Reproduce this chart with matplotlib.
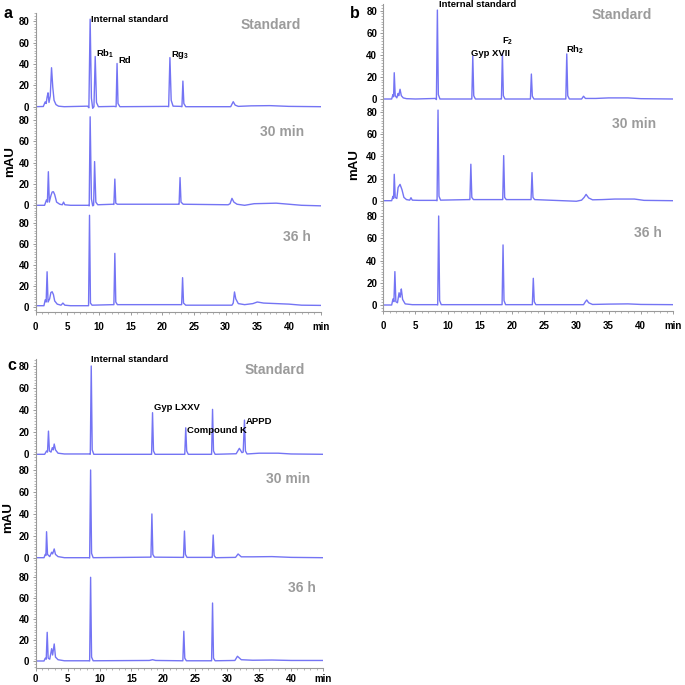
import numpy as np
import matplotlib.pyplot as plt
from matplotlib.ticker import MultipleLocator

plt.rcParams.update({
    "font.family": ["Liberation Sans", "DejaVu Sans"],
    "mathtext.default": "regular",
    "font.weight": "bold",
})

W = H = 685
LINE = "#7474f4"
AXC = "#9a9a9a"

# ---- data (time in min, signal in mAU) ----
a_std_t = [0.0, 1.2, 1.5, 1.65, 1.8, 1.95, 2.1, 2.3, 2.5, 2.7, 2.9, 3.2, 3.6, 4.5, 8.2, 8.4, 8.6, 8.8, 9.0,
           9.2, 9.4, 9.6, 9.9, 12.4, 12.7, 12.85, 13.0, 13.3, 20.8, 21.0, 21.2, 21.4, 21.7, 22.9, 23.1, 23.25,
           23.4, 23.7, 30.8, 31.2, 31.5, 32.0, 34.0, 37.0, 40.0, 45.0]
a_std_y = [0.0, 0.2, 4.5, 3.0, 9.0, 13.0, 4.0, 10.0, 36.5, 18.0, 6.0, 2.0, 0.5, 0.0, 0.5, -1.0, 82.0, 8.0, -1.5,
           0.0, 47.0, 4.0, 0.0, 0.3, 0.0, 40.5, 3.0, 0.0, 0.3, 0.0, 46.0, 6.0, 0.5, 0.3, 0.0, 24.0,
           3.0, 0.0, 0.0, 4.7, 1.5, 0.3, 0.8, 1.0, 0.3, 0.0]

a_30_t = [0.0, 1.4, 1.7, 1.85, 2.0, 2.15, 2.4, 2.6, 2.8, 3.0, 3.3, 3.8, 4.2, 4.4, 4.6, 5.5, 8.3, 8.45, 8.6,
          8.8, 9.0, 9.15, 9.3, 9.5, 9.8, 12.2, 12.35, 12.5, 12.65, 12.9, 22.5, 22.65, 22.8, 22.95, 23.3,
          30.4, 30.7, 31.0, 31.3, 31.8, 33.0, 34.5, 38.0, 40.0, 42.0, 45.0]
a_30_y = [0.0, 0.0, 5.0, 3.0, 31.5, 3.0, 9.0, 12.5, 12.7, 10.0, 3.0, 1.0, 0.5, 3.0, 0.5, 0.0, 0.0, -0.5, 83.0,
          6.0, -0.5, 0.0, 41.0, 3.0, 0.5, 1.0, 0.8, 24.6, 2.0, 1.0, 1.0, 1.0, 26.0, 3.0, 1.0,
          0.5, 1.5, 6.5, 3.0, 1.0, 0.0, 1.5, 2.0, 1.0, 0.0, -0.5]

a_36_t = [0.0, 1.3, 1.5, 1.65, 1.8, 1.95, 2.2, 2.4, 2.6, 2.8, 3.0, 3.4, 4.0, 4.3, 4.6, 5.5, 8.2, 8.35, 8.5,
          8.65, 8.9, 12.2, 12.35, 12.5, 12.65, 12.9, 22.9, 23.05, 23.2, 23.35, 23.7, 31.0, 31.2, 31.4,
          31.6, 32.0, 33.0, 34.3, 35.0, 36.0, 38.0, 40.0, 42.0, 45.0]
a_36_y = [1.5, 1.5, 7.0, 5.0, 33.6, 5.0, 8.0, 14.0, 14.7, 12.0, 6.0, 3.0, 2.0, 4.0, 2.0, 1.5, 1.5, 1.5, 87.0,
          4.0, 2.0, 2.5, 2.5, 51.0, 5.0, 2.5, 2.5, 2.5, 28.0, 4.0, 2.0, 2.0, 4.0, 14.5,
          8.0, 3.5, 2.5, 3.5, 5.0, 4.0, 3.5, 3.0, 2.0, 1.8]

b_std_t = [0.0, 1.3, 1.5, 1.6, 1.7, 1.85, 2.1, 2.3, 2.4, 2.6, 2.8, 3.1, 3.6, 5.0, 8.1, 8.25, 8.4, 8.55, 8.8,
           13.6, 13.75, 13.9, 14.05, 14.3, 18.2, 18.35, 18.5, 18.65, 18.9, 22.7, 22.85, 23.0, 23.15, 23.4,
           28.2, 28.35, 28.5, 28.65, 28.9, 30.8, 31.1, 31.4, 33.0, 35.0, 38.0, 40.0, 45.0]
b_std_y = [0.0, 0.0, 4.0, 2.0, 23.8, 3.0, 1.0, 5.0, 3.0, 8.8, 3.0, 1.0, 0.3, 0.0, 0.5, -0.5, 80.6, 4.0, 0.0,
           0.0, 0.0, 39.0, 3.0, 0.0, 0.0, 0.0, 41.4, 3.0, 0.0, 0.0, 0.0, 22.6, 2.5, 0.0,
           0.0, 0.0, 40.8, 3.0, 0.0, 0.0, 2.5, 0.5, 0.5, 1.0, 1.0, 0.3, 0.0]

b_30_t = [0.0, 1.3, 1.5, 1.6, 1.7, 1.85, 2.1, 2.3, 2.6, 2.9, 3.2, 3.6, 4.1, 4.3, 4.5, 5.5, 8.2, 8.35, 8.5,
          8.65, 8.9, 13.3, 13.45, 13.6, 13.75, 14.0, 18.4, 18.55, 18.7, 18.85, 19.1, 22.8, 22.95, 23.1,
          23.25, 23.5, 30.0, 30.8, 31.2, 31.5, 31.9, 32.5, 34.0, 36.0, 39.0, 40.5, 45.0]
b_30_y = [0.0, 0.0, 4.0, 2.0, 23.9, 3.0, 2.0, 12.0, 14.8, 10.0, 3.0, 1.0, 0.5, 2.7, 0.5, 0.3, 0.3, 0.0, 82.0,
          4.0, 0.5, 1.0, 1.0, 33.0, 3.0, 1.0, 1.0, 1.0, 40.8, 3.0, 1.0, 1.0, 1.0, 25.4,
          3.0, 1.0, -0.5, 0.5, 3.0, 5.7, 2.5, 0.8, 1.0, 1.5, 1.5, 0.3, 0.0]

b_36_t = [0.0, 1.3, 1.5, 1.65, 1.8, 1.95, 2.2, 2.45, 2.6, 2.7, 2.8, 3.0, 3.4, 4.5, 8.3, 8.45, 8.6, 8.75, 9.0,
          18.3, 18.45, 18.6, 18.75, 19.0, 23.0, 23.15, 23.3, 23.45, 23.7, 31.1, 31.4, 31.6, 31.9, 32.5,
          35.0, 38.0, 40.0, 45.0]
b_36_y = [0.0, 0.0, 5.4, 3.0, 30.0, 3.0, 2.0, 11.0, 7.0, 10.0, 14.4, 5.0, 1.0, 0.3, 0.3, 0.0, 80.0, 4.0, 0.3,
          0.3, 0.3, 54.0, 4.0, 0.3, 0.3, 0.3, 24.0, 3.0, 0.3, 0.3, 3.0, 4.5, 2.0, 0.5,
          0.8, 1.0, 0.5, 0.3]

c_std_t = [0.0, 1.4, 1.7, 1.85, 2.0, 2.15, 2.4, 2.6, 2.75, 2.9, 3.1, 3.5, 4.5, 8.4, 8.55, 8.7, 8.85, 9.1,
           18.0, 18.15, 18.3, 18.45, 18.7, 23.2, 23.35, 23.5, 23.65, 23.9, 27.4, 27.55, 27.7, 27.85, 28.1,
           31.4, 31.9, 32.3, 32.5, 32.7, 32.85, 33.1, 35.0, 38.0, 40.0, 45.0]
c_std_y = [0.0, 0.0, 3.0, 2.0, 21.0, 3.0, 2.0, 6.0, 4.0, 9.3, 4.0, 1.0, 0.3, 0.3, 0.0, 80.0, 4.0, 0.0,
           0.0, 0.0, 37.7, 3.0, 0.0, 0.0, 0.0, 24.0, 3.0, 0.0, 0.0, 0.0, 40.7, 3.0, 0.0,
           0.5, 5.4, 1.5, 2.0, 31.0, 3.0, 0.3, 1.0, 1.0, 0.3, 0.0]

c_30_t = [0.0, 1.3, 1.5, 1.6, 1.7, 1.85, 2.2, 2.5, 2.65, 2.9, 3.1, 3.5, 4.5, 8.3, 8.45, 8.6, 8.75, 9.0,
          17.9, 18.05, 18.2, 18.35, 18.6, 23.0, 23.15, 23.3, 23.45, 23.7, 27.5, 27.65, 27.8, 27.95, 28.2,
          31.3, 31.7, 32.2, 34.0, 37.0, 40.0, 45.0]
c_30_y = [0.0, 0.0, 3.0, 2.0, 23.7, 3.0, 1.0, 5.0, 3.5, 8.0, 3.0, 1.0, 0.0, 0.0, -0.3, 80.0, 4.0, 0.0,
          0.5, 0.5, 39.9, 3.0, 0.5, 0.3, 0.3, 24.3, 3.0, 0.3, 0.3, 0.3, 20.7, 2.0, 0.0,
          0.3, 3.4, 0.8, 0.8, 1.0, 0.3, 0.0]

c_36_t = [0.0, 1.3, 1.5, 1.65, 1.8, 1.95, 2.2, 2.5, 2.65, 2.9, 3.1, 3.5, 4.5, 8.3, 8.45, 8.6, 8.75, 9.0,
          17.8, 18.3, 18.8, 22.9, 23.05, 23.2, 23.35, 23.6, 27.4, 27.55, 27.7, 27.85, 28.1, 31.2, 31.6,
          32.2, 34.0, 37.0, 40.0, 45.0]
c_36_y = [0.3, 0.3, 3.0, 2.0, 27.6, 3.0, 2.0, 12.0, 6.0, 16.5, 4.0, 1.5, 0.5, 0.5, 0.3, 80.0, 4.0, 0.5,
          0.8, 1.5, 0.8, 0.5, 0.5, 28.6, 3.0, 0.5, 0.5, 0.5, 55.5, 3.0, 0.5, 0.8, 4.8,
          1.5, 1.0, 1.2, 0.8, 0.8]

conditions = ["Standard", "30 min", "36 h"]
y_ticks = [0, 20, 40, 60, 80]
x_ticks = [0, 5, 10, 15, 20, 25, 30, 35, 40, 45]
x_ticklabels = ["0", "5", "10", "15", "20", "25", "30", "35", "40", "min"]

# panel layout in pixels: left, right, [(top, bottom, y of 80, y of 0), ...]
panels = {
    "a": dict(left=35.7, right=320.6, xpad=4.5,
              rows=[(13, 113.5, 21.3, 106.7), (113.5, 214, 120, 205.3), (214, 312, 222.7, 307.3)],
              traces=[(a_std_t, a_std_y), (a_30_t, a_30_y), (a_36_t, a_36_y)],
              cond_xy=[(271, 25), (282, 132), (297, 237)],
              letter=(8.5, 13), ylabel=(10, 162)),
    "b": dict(left=383.3, right=673, xpad=4.5,
              rows=[(4, 105.7, 10.7, 99), (105.7, 208.3, 112.3, 200.7), (208.3, 311, 216, 305)],
              traces=[(b_std_t, b_std_y), (b_30_t, b_30_y), (b_36_t, b_36_y)],
              cond_xy=[(622, 15), (634, 124), (648, 233)],
              letter=(355, 14), ylabel=(354, 165)),
    "c": dict(left=35.7, right=323, xpad=2.0,
              rows=[(359, 462, 366, 454.3), (462, 567, 470, 557.7), (567, 668, 577.3, 661.3)],
              traces=[(c_std_t, c_std_y), (c_30_t, c_30_y), (c_36_t, c_36_y)],
              cond_xy=[(275, 370), (288, 479), (302, 588)],
              letter=(12, 365), ylabel=(8, 518)),
}

peak_labels = {
    "a": [(8.7, 82, "Internal standard"), (9.5, 50, r"Rb$_1$"), (13.0, 43, "Rd"), (21.4, 48.5, r"Rg$_3$")],
    "b": [(8.65, 86, "Internal standard"), (13.7, 41.4, "Gyp XVII"), (18.5, 52, r"F$_2$"), (28.4, 44.4, r"Rh$_2$")],
    "c": [(8.7, 86, "Internal standard"), (18.5, 42, "Gyp LXXV"), (23.7, 22, "Compound K"), (32.9, 30, "APPD")],
}

fig = plt.figure(figsize=(6.85, 6.85), dpi=100)
fig.patch.set_facecolor("white")


def px(x, y):
    return x / W, 1 - y / H


for key, p in panels.items():
    nrows = len(p["rows"])
    for i, ((top, bot, y80, y0), (t, y)) in enumerate(zip(p["rows"], p["traces"])):
        ax = fig.add_axes([p["left"] / W, 1 - bot / H, (p["right"] - p["left"]) / W, (bot - top) / H])
        s = (y0 - y80) / 80.0
        ax.set_ylim(-(bot - y0) / s, 80 + (y80 - top) / s)
        ax.set_xlim(0, 45)
        ax.plot(t, y, color=LINE, lw=1.0)
        ax.set_facecolor("none")
        for sp in ["top", "right"]:
            ax.spines[sp].set_visible(False)
        ax.spines["left"].set_color(AXC)
        ax.spines["left"].set_linewidth(0.8)
        ax.set_yticks(y_ticks)
        ax.yaxis.set_minor_locator(MultipleLocator(2.5))
        ax.tick_params(axis="y", which="major", length=2.5, width=0.7, color=AXC, labelsize=7, pad=2)
        ax.tick_params(axis="y", which="minor", length=1.2, width=0.5, color=AXC)
        for lab in ax.get_yticklabels():
            lab.set_fontweight("bold")
        if i == nrows - 1:
            ax.spines["bottom"].set_color(AXC)
            ax.spines["bottom"].set_linewidth(0.8)
            ax.set_xticks(x_ticks)
            ax.set_xticklabels(x_ticklabels, fontsize=7, fontweight="bold")
            ax.xaxis.set_minor_locator(MultipleLocator(1))
            ax.tick_params(axis="x", which="major", length=2.5, width=0.7, color=AXC, pad=p["xpad"])
            ax.tick_params(axis="x", which="minor", length=1.2, width=0.5, color=AXC)
        else:
            ax.spines["bottom"].set_visible(False)
            ax.set_xticks([])
        if i == 0:
            for xt, yt, txt in peak_labels[key]:
                ax.text(xt, yt, txt, fontsize=6.8, fontweight="bold", va="center", ha="left", clip_on=False)
        cx, cy = p["cond_xy"][i]
        fig.text(*px(cx, cy), conditions[i], color="#9b9b9b", fontsize=10, fontweight="bold",
                 ha="center", va="center")
    fig.text(*px(*p["letter"]), key, fontsize=11.5, fontweight="bold", ha="center", va="center")
    fig.text(*px(*p["ylabel"]), "mAU", fontsize=9.5, fontweight="bold", rotation=90, ha="center", va="center")

fig.savefig("out.png", dpi=100, facecolor="white")
